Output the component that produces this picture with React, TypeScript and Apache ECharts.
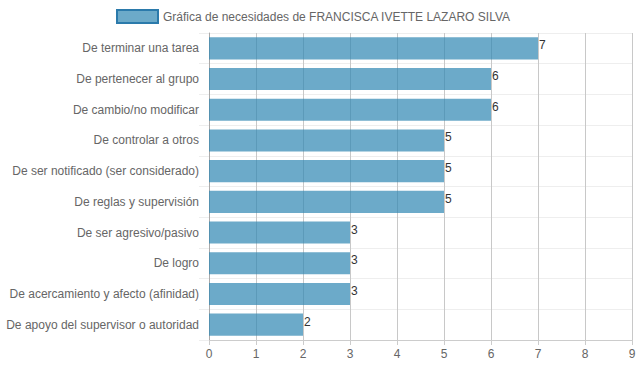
import React, { useEffect, useRef } from "react";
import * as echarts from "echarts";

const categories = [
  "De terminar una tarea",
  "De pertenecer al grupo",
  "De cambio/no modificar",
  "De controlar a otros",
  "De ser notificado (ser considerado)",
  "De reglas y supervisión",
  "De ser agresivo/pasivo",
  "De logro",
  "De acercamiento y afecto (afinidad)",
  "De apoyo del supervisor o autoridad",
];
const values = [7, 6, 6, 5, 5, 5, 3, 3, 3, 2];
const seriesName = "Gráfica de necesidades de FRANCISCA IVETTE LAZARO SILVA";

export default function App() {
  const ref = useRef<HTMLDivElement>(null);
  useEffect(() => {
    if (!ref.current) return;
    const chart = echarts.init(ref.current, null, { renderer: "svg" });
    chart.setOption({
      animation: false,
      textStyle: { fontFamily: "Liberation Sans, Arial, sans-serif" },
      legend: {
        top: 4,
        left: 111,
        itemWidth: 41,
        itemHeight: 13,
        itemGap: 6,
        textStyle: { color: "#666", fontSize: 12 },
        data: [
          {
            name: seriesName,
            icon: "rect",
            itemStyle: { color: "rgba(46,134,178,0.7)", borderColor: "#2b7aab", borderWidth: 2 },
          },
        ],
      },
      grid: { left: 209, right: 7, top: 33, bottom: 32, containLabel: false },
      xAxis: {
        type: "value",
        min: 0,
        max: 9,
        interval: 1,
        axisLine: { show: true, lineStyle: { color: "#ccc" } },
        axisTick: { show: true, length: 5, lineStyle: { color: "#ccc" } },
        axisLabel: { color: "#666", fontSize: 12, margin: 8 },
        splitLine: { show: true, lineStyle: { color: "#c8c8c8" } },
      },
      yAxis: {
        type: "category",
        inverse: true,
        data: categories,
        axisLine: { show: true, lineStyle: { color: "#aaa" } },
        axisTick: { show: true, length: 10, lineStyle: { color: "#eee" } },
        axisLabel: { color: "#666", fontSize: 12, margin: 10 },
        splitLine: { show: true, lineStyle: { color: "#eee" } },
      },
      series: [
        {
          name: seriesName,
          type: "bar",
          data: values,
          barCategoryGap: "28%",
          itemStyle: { color: "rgba(46,134,178,0.7)" },
          label: {
            show: true,
            position: "right",
            distance: 1,
            offset: [0, -3],
            color: "#333",
            fontSize: 12,
          },
        },
      ],
    });
    return () => chart.dispose();
  }, []);
  return <div ref={ref} style={{ width: 639, height: 372, position: "absolute", left: 0, top: 0 }} />;
}
